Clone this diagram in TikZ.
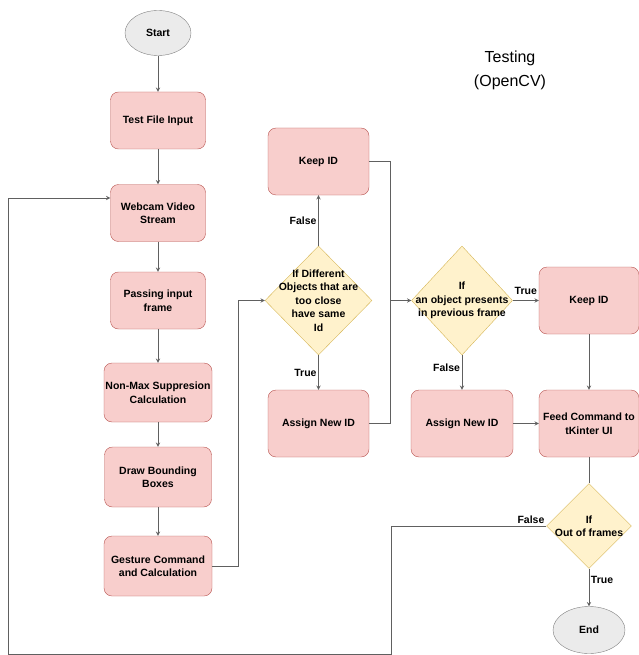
\documentclass[tikz,border=0pt]{standalone}
\usepackage{fontspec}
\setmainfont{Liberation Sans}
\usetikzlibrary{shapes.geometric,arrows,positioning}
\definecolor{procfill}{HTML}{F8CECC}
\definecolor{procdraw}{HTML}{B85450}
\definecolor{decfill}{HTML}{FFF2CC}
\definecolor{decdraw}{HTML}{D6B656}
\definecolor{termfill}{HTML}{EBEBEB}
\definecolor{termdraw}{HTML}{808080}
\definecolor{linegray}{HTML}{606060}
\tikzset
{
    process/.style  = {rectangle, rounded corners=8pt, draw=procdraw, fill=procfill, align=center, inner sep=1pt, minimum width=95pt, minimum height=57pt, font=\fontsize{10.5}{13.5}\selectfont\bfseries},
    decision/.style = {diamond, draw=decdraw, fill=decfill, inner sep=0pt},
    dectext/.style  = {align=center, inner sep=0pt, font=\fontsize{10.5}{13.5}\selectfont\bfseries},
    terminal/.style = {ellipse, draw=termdraw, fill=termfill, minimum width=66pt, minimum height=45pt, font=\fontsize{10.5}{13.5}\selectfont\bfseries},
    branch/.style   = {inner sep=1.5pt, font=\fontsize{10.5}{13.5}\selectfont\bfseries},
    heading/.style  = {align=center, font=\fontsize{16}{24}\selectfont},
    arrow/.style    = {->, >=stealth, draw=linegray, line width=0.9pt},
    link/.style     = {draw=linegray, line width=0.9pt}
}

\begin{document}
\begin{tikzpicture}[x=1pt, y=-1pt]
   \newcommand\LEFTX{158}
   \newcommand\MIDX{318.5}
   \newcommand\RIGHTX{462}
   \newcommand\FARX{589}
   \useasboundingbox (0,0) rectangle (638,655);

   \node (start)   [terminal]                                          at (\LEFTX, 33)    {Start};
   \node (input)   [process]                                           at (\LEFTX, 120.5) {Test File Input};
   \node (webcam)  [process]                                           at (\LEFTX, 213)   {Webcam Video\\Stream};
   \node (frame)   [process]                                           at (\LEFTX, 300.5) {Passing input\\frame};
   \node (nms)     [process, minimum width=108pt, minimum height=59pt] at (\LEFTX, 392.5) {Non-Max Suppresion\\Calculation};
   \node (boxes)   [process, minimum width=107pt, minimum height=60pt] at (\LEFTX, 477)   {Draw Bounding\\Boxes};
   \node (gesture) [process, minimum width=108pt, minimum height=60pt] at (\LEFTX, 566)   {Gesture Command\\and Calculation};

   \node (dclose)     [decision, minimum width=107pt, minimum height=109pt] at (\MIDX, 300.5) {};
   \node (dclosetext) [dectext]                                             at (dclose)       {If Different\\Objects that are\\too close\\have same\\Id};
   \node (keepa)      [process, minimum width=101pt, minimum height=67pt]   at (\MIDX, 161.5) {Keep ID};
   \node (assigna)    [process, minimum width=101pt, minimum height=67pt]   at (\MIDX, 423.5) {Assign New ID};

   \node (dprev)      [decision, minimum width=101pt, minimum height=109pt] at (\RIGHTX, 300.5) {};
   \node (dprevtext)  [dectext]                                             at (dprev)          {If\\an object presents\\in previous frame};
   \node (assignb)    [process, minimum width=102pt, minimum height=67pt]   at (\RIGHTX, 423.5) {Assign New ID};
   \node (keepb)      [process, minimum width=100pt, minimum height=67pt]   at (\FARX, 300.5)   {Keep ID};
   \node (feed)       [process, minimum width=100pt, minimum height=67pt]   at (\FARX, 423.5)   {Feed Command to\\tKinter UI};

   \node (dend)       [decision, minimum width=85pt, minimum height=85pt]   at (\FARX, 526)     {};
   \node (dendtext)   [dectext]                                             at (dend)           {If\\Out of frames};
   \node (stop)       [terminal, minimum width=72pt, minimum height=47pt]   at (\FARX, 630)     {End};

   \node (title)      [heading]                                             at (510, 70)        {Testing\\(OpenCV)};

   \coordinate (jgest)  at (238, 300.5);
   \coordinate (jkeep)  at (390, 300.5);
   \coordinate (jloopa) at (391, 654);
   \coordinate (jloopb) at (8, 198);

   \path
      (start)   edge[arrow] (input)
      (input)   edge[arrow] (webcam)
      (webcam)  edge[arrow] (frame)
      (frame)   edge[arrow] (nms)
      (nms)     edge[arrow] (boxes)
      (boxes)   edge[arrow] (gesture)
      (dclose)  edge[arrow] node[branch, left, name=lfalsea] {False} (keepa)
      (dclose)  edge[arrow] node[branch, left, name=ltruea] {True} (assigna)
      (dprev)   edge[arrow] node[branch, above, yshift=4pt, name=ltrueb] {True} (keepb)
      (dprev)   edge[arrow] node[branch, left, pos=0.35, name=lfalseb] {False} (assignb)
      (assignb) edge[arrow] (feed)
      (keepb)   edge[arrow] (feed)
      (feed)    edge[link]  (dend)
      (dend)    edge[arrow] node[branch, right, pos=0.3, name=ltruec] {True} (stop);

   \draw[arrow] (gesture.east) -| (jgest) -- (dclose.west);
   \draw[link]  (keepa.east) -| (jkeep);
   \draw[link]  (assigna.east) -| (jkeep);
   \draw[arrow] (jkeep) -- (dprev.west);
   \draw[arrow] (dend.west) node[branch, above left, name=lfalsec] {False} -| (jloopa) -| (jloopb) -- (webcam.west |- jloopb);
\end{tikzpicture}
\end{document}
